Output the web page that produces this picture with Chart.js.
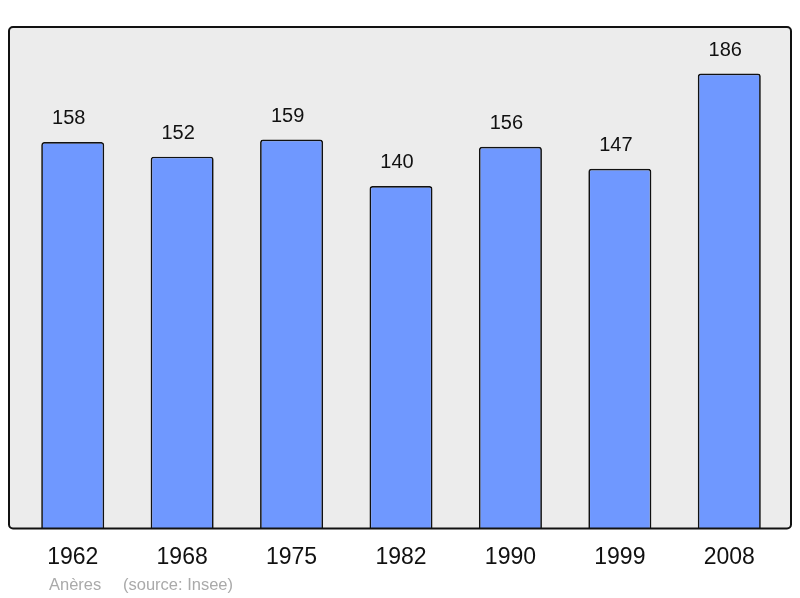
<!DOCTYPE html>
<html>
<head>
<meta charset="utf-8">
<script src="https://cdn.jsdelivr.net/npm/chart.js@4"></script>
<style>
  html, body { margin: 0; padding: 0; background: #ffffff; }
  #wrap { width: 800px; height: 598px; position: relative; }
</style>
</head>
<body>
<div id="wrap"><canvas id="chart" width="800" height="598"></canvas></div>
<script>
// données
const years = ['1962', '1968', '1975', '1982', '1990', '1999', '2008'];
const population = [158, 152, 159, 140, 156, 147, 186];
const commune = 'Anères';
const source = '(source: Insee)';

const FONT = '"Liberation Sans", Arial, sans-serif';

// fond gris + cadre arrondi
const boxPlugin = {
  id: 'box',
  beforeDatasetsDraw(chart) {
    const { ctx, chartArea } = chart;
    const x = chartArea.left - 9, y = chartArea.top;
    const w = chartArea.right + 7 - x, h = chartArea.bottom - y;
    ctx.save();
    ctx.beginPath();
    ctx.roundRect(x, y, w, h, 4);
    ctx.fillStyle = '#ececec';
    ctx.fill();
    ctx.restore();
  },
  afterDatasetsDraw(chart) {
    const { ctx, chartArea } = chart;
    const x = chartArea.left - 9, y = chartArea.top;
    const w = chartArea.right + 7 - x, h = chartArea.bottom - y;
    ctx.save();
    ctx.beginPath();
    ctx.roundRect(x, y, w, h, 4);
    ctx.lineWidth = 2;
    ctx.strokeStyle = '#111111';
    ctx.stroke();

    // valeurs au-dessus des barres (un peu décalées à gauche comme l'original)
    ctx.fillStyle = '#111111';
    ctx.font = '20px ' + FONT;
    ctx.textAlign = 'center';
    ctx.textBaseline = 'middle';
    chart.getDatasetMeta(0).data.forEach((bar, i) => {
      ctx.fillText(String(population[i]), bar.x - 4, bar.y - 23);
    });

    // légende en bas
    ctx.fillStyle = '#aaaaaa';
    ctx.font = '16.5px ' + FONT;
    ctx.textAlign = 'left';
    ctx.fillText(commune, chartArea.left + 31, 585);
    ctx.fillText(source, chartArea.left + 105, 585);
    ctx.restore();
  }
};

new Chart(document.getElementById('chart'), {
  type: 'bar',
  data: {
    labels: years,
    datasets: [{
      data: population,
      backgroundColor: '#6f98ff',
      borderColor: '#111111',
      borderWidth: 1.7,
      borderRadius: 3,
      borderSkipped: 'bottom',
      barPercentage: 0.576,
      categoryPercentage: 1
    }]
  },
  options: {
    responsive: false,
    animation: false,
    layout: { padding: { top: 27, left: 18, right: 16, bottom: 20 } },
    plugins: {
      legend: { display: false },
      tooltip: { enabled: false }
    },
    scales: {
      x: {
        grid: { display: false },
        border: { display: false },
        ticks: { color: '#111111', font: { family: FONT, size: 23 }, padding: 7 }
      },
      y: {
        display: false,
        min: 0,
        max: 205
      }
    }
  },
  plugins: [boxPlugin]
});
</script>
</body>
</html>
